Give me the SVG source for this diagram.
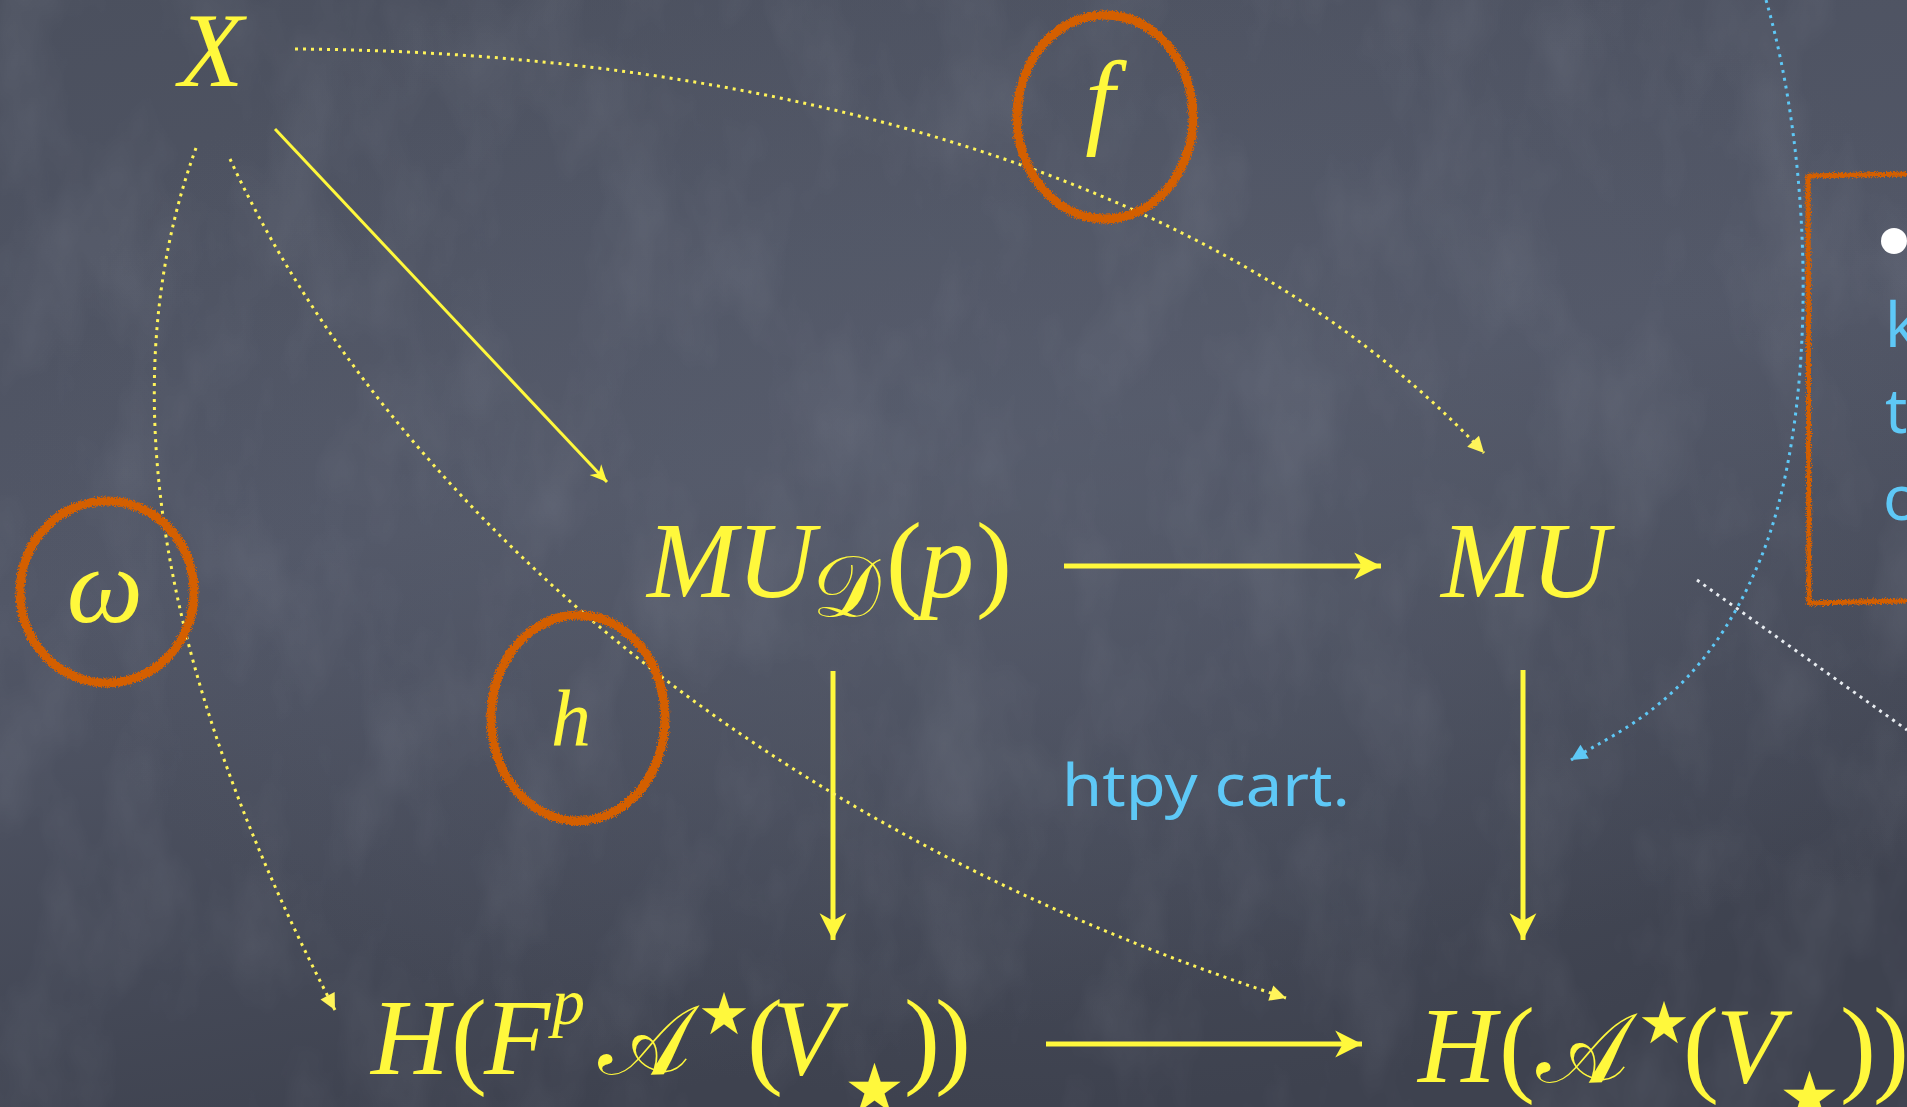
<svg xmlns="http://www.w3.org/2000/svg" width="1907" height="1107" viewBox="0 0 1907 1107">
<defs>
<style>
.m{font-family:"Liberation Serif","DejaVu Serif",serif;fill:#fff83c;}
.it{font-style:italic;}
.scr{font-family:"DejaVu Serif","DejaVu Sans","Noto Sans",serif;font-style:normal;}
.st{font-family:"DejaVu Sans",sans-serif;fill:#fff83c;}
.blue{font-family:"Noto Sans","Lato",sans-serif;fill:#5ec8f6;}
.solid{fill:none;stroke:#fff83c;stroke-width:5;}
.thin{fill:none;stroke:#fff83c;stroke-width:3;}
.dot{fill:none;stroke:#fff45a;stroke-width:3;stroke-dasharray:3 5;}
.dotb{fill:none;stroke:#5ec8f6;stroke-width:3;stroke-dasharray:3 5;}
.dotw{fill:none;stroke:#e8ecf0;stroke-width:3;stroke-dasharray:3 5;}
.ring{fill:none;stroke:#d45f00;stroke-width:9;}
</style>
<linearGradient id="bg" x1="0" y1="0" x2="0.3" y2="1">
<stop offset="0" stop-color="#4b505e"/>
<stop offset="0.5" stop-color="#525767"/>
<stop offset="1" stop-color="#3e424f"/>
</linearGradient>
<radialGradient id="glow" cx="0.55" cy="0.45" r="0.55">
<stop offset="0" stop-color="#5b6171" stop-opacity="0.55"/>
<stop offset="1" stop-color="#5b6171" stop-opacity="0"/>
</radialGradient>
<filter id="grain" x="0" y="0" width="100%" height="100%">
<feTurbulence type="fractalNoise" baseFrequency="0.012 0.006" numOctaves="4" seed="11"/>
<feColorMatrix type="matrix" values="0 0 0 0 0.55 0 0 0 0 0.58 0 0 0 0 0.66 0.7 0 0 0 -0.3"/>
</filter>
<filter id="chalk" x="-10%" y="-10%" width="120%" height="120%">
<feTurbulence type="fractalNoise" baseFrequency="1.2" numOctaves="2" seed="3" result="n"/>
<feDisplacementMap in="SourceGraphic" in2="n" scale="6" xChannelSelector="R" yChannelSelector="G"/>
</filter>
<marker id="ah" markerUnits="userSpaceOnUse" markerWidth="30" markerHeight="30" viewBox="-26 -14 28 28" refX="0" refY="0" orient="auto">
<path d="M0,0 L-25,-12.5 L-18,0 L-25,12.5 Z" fill="#fff83c"/>
</marker>
<marker id="ahs" markerUnits="userSpaceOnUse" markerWidth="20" markerHeight="20" viewBox="-18 -10 20 20" refX="0" refY="0" orient="auto">
<path d="M0,0 L-17,-8 L-12,0 L-17,8 Z" fill="#fff83c"/>
</marker>
<marker id="ahd" markerUnits="userSpaceOnUse" markerWidth="20" markerHeight="20" viewBox="-17 -10 19 20" refX="0" refY="0" orient="auto">
<path d="M0,0 L-16,-8 L-16,8 Z" fill="#fff45a"/>
</marker>
<marker id="ahb" markerUnits="userSpaceOnUse" markerWidth="20" markerHeight="20" viewBox="-17 -10 19 20" refX="0" refY="0" orient="auto">
<path d="M0,0 L-16,-8 L-16,8 Z" fill="#5ec8f6"/>
</marker>
</defs>

<rect width="1907" height="1107" fill="url(#bg)"/>
<rect width="1907" height="1107" fill="url(#glow)"/>
<rect width="1907" height="1107" filter="url(#grain)" opacity="0.3"/>

<g id="connectors">
<path class="thin" d="M275,129 L607,482" marker-end="url(#ahs)"/>
<path class="solid" d="M1064,566 L1381,566" marker-end="url(#ah)"/>
<path class="solid" d="M1046,1044 L1362,1044" marker-end="url(#ah)"/>
<path class="solid" d="M833,671 L833,940" marker-end="url(#ah)"/>
<path class="solid" d="M1523,670 L1523,940" marker-end="url(#ah)"/>
<path class="dot" d="M295,49 C760,52 1220,170 1484,453" marker-end="url(#ahd)"/>
<path class="dot" d="M196,148 C130,330 120,600 335,1010" marker-end="url(#ahd)"/>
<path class="dot" d="M230,159 C360,440 680,800 1286,998" marker-end="url(#ahd)"/>
<path class="dotb" d="M1766,0 C1815,170 1818,420 1760,560 C1702,700 1620,730 1571,760" marker-end="url(#ahb)"/>
<path class="dotw" d="M1697,580 L1907,730"/>
</g>

<g id="node-X"><text class="m it" x="211" y="86" font-size="106" text-anchor="middle">X</text></g>

<g id="node-MUDp">
<text class="m" y="597" font-size="108"><tspan class="it" x="647">MU</tspan><tspan class="scr" x="812" y="616" font-size="86">𝒟</tspan><tspan x="886" y="597">(</tspan><tspan class="it" x="920">p</tspan><tspan x="976">)</tspan></text>
</g>

<g id="node-MU"><text class="m it" x="1441" y="597" font-size="108">MU</text></g>

<g id="node-HFpA">
<text class="m" y="1074" font-size="108"><tspan class="it" x="371">H</tspan><tspan x="451">(</tspan><tspan class="it" x="484">F</tspan><tspan class="it" x="552" y="1024" font-size="66">p</tspan><tspan class="scr" x="598" y="1074" font-size="98">𝒜</tspan><tspan x="747">(</tspan><tspan class="it" x="772">V</tspan><tspan x="904">)</tspan><tspan x="935">)</tspan></text>
<text class="st" x="698" y="1034" font-size="58">★</text>
<text class="st" x="844" y="1112" font-size="68">★</text>
</g>

<g id="node-HA">
<text class="m" y="1082" font-size="108"><tspan class="it" x="1418">H</tspan><tspan x="1499">(</tspan><tspan class="scr" x="1536" font-size="98">𝒜</tspan><tspan x="1683">(</tspan><tspan class="it" x="1716">V</tspan><tspan x="1840">)</tspan><tspan x="1873">)</tspan></text>
<text class="st" x="1638" y="1043" font-size="58">★</text>
<text class="st" x="1779" y="1120" font-size="68">★</text>
</g>

<g id="label-f">
<ellipse class="ring" cx="1105" cy="117" rx="88" ry="102" filter="url(#chalk)"/>
<text class="m it" x="1100" y="134" font-size="106" text-anchor="middle">f</text>
</g>

<g id="label-omega">
<ellipse class="ring" cx="107" cy="592" rx="87" ry="91" filter="url(#chalk)"/>
<text class="m it" x="105" y="622" font-size="108" text-anchor="middle">ω</text>
</g>

<g id="label-h">
<ellipse class="ring" cx="578" cy="718" rx="87" ry="103" filter="url(#chalk)"/>
<text class="m it" x="571" y="745" font-size="80" text-anchor="middle">h</text>
</g>

<g id="label-htpy"><text class="blue" x="1062" y="806" font-size="58" textLength="288" lengthAdjust="spacingAndGlyphs">htpy cart.</text></g>

<g id="note-box">
<path d="M1808,176 L1907,174 M1808,174 L1809,604 M1808,603 L1907,601" fill="none" stroke="#d45f00" stroke-width="5" filter="url(#chalk)"/>
<circle cx="1894" cy="241" r="13" fill="#ffffff"/>
<text class="blue" x="1885" y="347" font-size="62">k</text>
<text class="blue" x="1885" y="433" font-size="62">t</text>
<text class="blue" x="1883" y="520" font-size="62">o</text>
</g>
</svg>
